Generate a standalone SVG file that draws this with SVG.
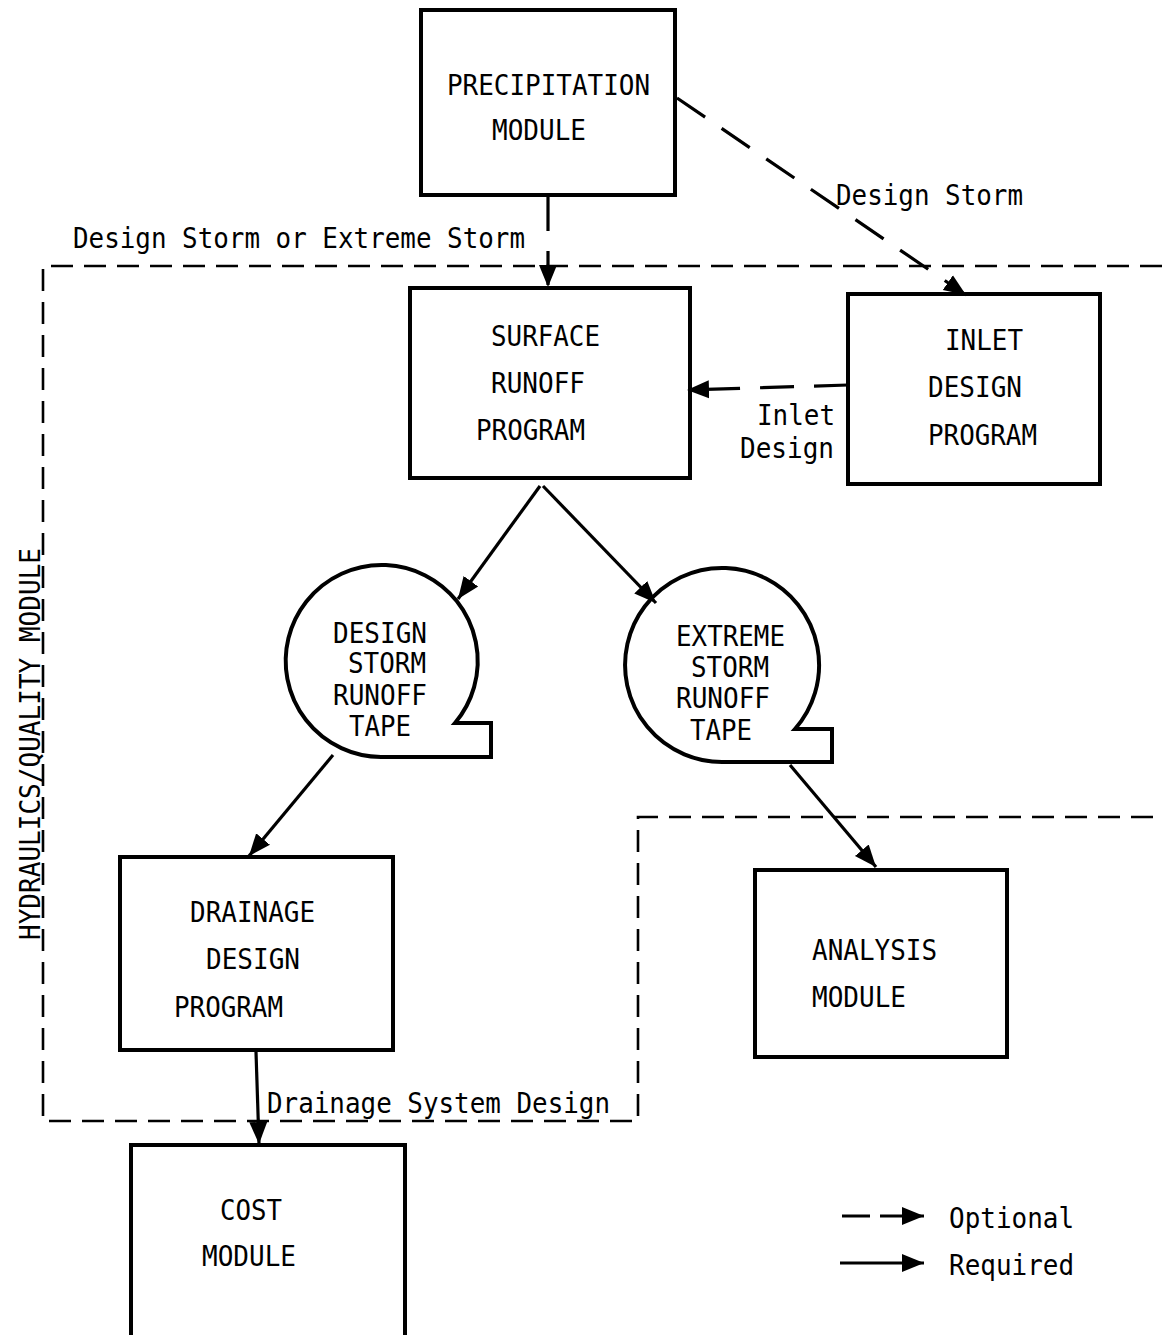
<svg xmlns="http://www.w3.org/2000/svg" width="1162" height="1335" viewBox="0 0 1162 1335">
<style>
  .box{fill:none;stroke:#000;stroke-width:4;stroke-linejoin:miter}
  .t{font-family:"DejaVu Sans Mono","Liberation Mono",monospace;font-size:28px;fill:#000}
  .req{fill:none;stroke:#000;stroke-width:3.2}
  .opt{fill:none;stroke:#000;stroke-width:3.2;stroke-dasharray:34 20}
  .bnd{fill:none;stroke:#000;stroke-width:2.6;stroke-dasharray:22 11}
</style>
<defs>
  <marker id="ah" markerUnits="userSpaceOnUse" markerWidth="24" markerHeight="20" refX="22" refY="10" orient="auto">
    <path d="M0,1 L22,10 L0,19 Z" fill="#000" stroke="none"/>
  </marker>
</defs>
<rect width="1162" height="1335" fill="#fff"/>

<g id="boundary">
  <path class="bnd" d="M1162,266 L43,266 L43,1121 L638,1121 L638,817 L1162,817"/>
  <text class="t" transform="translate(40,940) rotate(-90)" textLength="392" lengthAdjust="spacingAndGlyphs">HYDRAULICS/QUALITY MODULE</text>
</g>

<g id="precipitation">
  <rect class="box" x="421" y="10" width="254" height="185"/>
  <text class="t" x="447" y="95" textLength="203" lengthAdjust="spacingAndGlyphs">PRECIPITATION</text>
  <text class="t" x="492" y="140" textLength="94" lengthAdjust="spacingAndGlyphs">MODULE</text>
</g>

<g id="surface">
  <rect class="box" x="410" y="288" width="280" height="190"/>
  <text class="t" x="491" y="346" textLength="109" lengthAdjust="spacingAndGlyphs">SURFACE</text>
  <text class="t" x="491" y="393" textLength="94" lengthAdjust="spacingAndGlyphs">RUNOFF</text>
  <text class="t" x="476" y="440" textLength="109" lengthAdjust="spacingAndGlyphs">PROGRAM</text>
</g>

<g id="inlet">
  <rect class="box" x="848" y="294" width="252" height="190"/>
  <text class="t" x="945" y="350" textLength="78" lengthAdjust="spacingAndGlyphs">INLET</text>
  <text class="t" x="928" y="397" textLength="94" lengthAdjust="spacingAndGlyphs">DESIGN</text>
  <text class="t" x="928" y="445" textLength="109" lengthAdjust="spacingAndGlyphs">PROGRAM</text>
</g>

<g id="design-tape">
  <path class="box" d="M455,723 L491,723 L491,757 L381,757 A96,96 0 1 1 455,723 Z"/>
  <text class="t" x="333" y="643" textLength="94" lengthAdjust="spacingAndGlyphs">DESIGN</text>
  <text class="t" x="348" y="673" textLength="78" lengthAdjust="spacingAndGlyphs">STORM</text>
  <text class="t" x="333" y="705" textLength="94" lengthAdjust="spacingAndGlyphs">RUNOFF</text>
  <text class="t" x="349" y="736" textLength="62" lengthAdjust="spacingAndGlyphs">TAPE</text>
</g>

<g id="extreme-tape">
  <path class="box" d="M795,729 L832,729 L832,762 L725,762 A97,97 0 1 1 795,729 Z"/>
  <text class="t" x="676" y="646" textLength="109" lengthAdjust="spacingAndGlyphs">EXTREME</text>
  <text class="t" x="691" y="677" textLength="78" lengthAdjust="spacingAndGlyphs">STORM</text>
  <text class="t" x="676" y="708" textLength="94" lengthAdjust="spacingAndGlyphs">RUNOFF</text>
  <text class="t" x="690" y="740" textLength="62" lengthAdjust="spacingAndGlyphs">TAPE</text>
</g>

<g id="drainage">
  <rect class="box" x="120" y="857" width="273" height="193"/>
  <text class="t" x="190" y="922" textLength="125" lengthAdjust="spacingAndGlyphs">DRAINAGE</text>
  <text class="t" x="206" y="969" textLength="94" lengthAdjust="spacingAndGlyphs">DESIGN</text>
  <text class="t" x="174" y="1017" textLength="109" lengthAdjust="spacingAndGlyphs">PROGRAM</text>
</g>

<g id="analysis">
  <rect class="box" x="755" y="870" width="252" height="187"/>
  <text class="t" x="812" y="960" textLength="125" lengthAdjust="spacingAndGlyphs">ANALYSIS</text>
  <text class="t" x="812" y="1007" textLength="94" lengthAdjust="spacingAndGlyphs">MODULE</text>
</g>

<g id="cost">
  <path class="box" d="M131,1335 L131,1145 L405,1145 L405,1335"/>
  <text class="t" x="220" y="1220" textLength="62" lengthAdjust="spacingAndGlyphs">COST</text>
  <text class="t" x="202" y="1266" textLength="94" lengthAdjust="spacingAndGlyphs">MODULE</text>
</g>

<g id="connectors">
  <path class="opt" d="M548,197 L548,287" marker-end="url(#ah)"/>
  <path class="opt" d="M677,98 L966,295" marker-end="url(#ah)"/>
  <path class="opt" d="M848,385 L687,390" marker-end="url(#ah)"/>
  <path class="req" d="M540,486 L458,599" marker-end="url(#ah)"/>
  <path class="req" d="M543,486 L656,603" marker-end="url(#ah)"/>
  <path class="req" d="M333,755 L249,856" marker-end="url(#ah)"/>
  <path class="req" d="M790,765 L876,867" marker-end="url(#ah)"/>
  <path class="req" d="M256,1052 L259,1144" marker-end="url(#ah)"/>
  <text class="t" x="73" y="248" textLength="452" lengthAdjust="spacingAndGlyphs">Design Storm or Extreme Storm</text>
  <text class="t" x="836" y="205" textLength="187" lengthAdjust="spacingAndGlyphs">Design Storm</text>
  <text class="t" x="757" y="425" textLength="78" lengthAdjust="spacingAndGlyphs">Inlet</text>
  <text class="t" x="740" y="458" textLength="94" lengthAdjust="spacingAndGlyphs">Design</text>
  <text class="t" x="267" y="1113" textLength="343" lengthAdjust="spacingAndGlyphs">Drainage System Design</text>
</g>

<g id="legend">
  <path class="req" d="M842,1216 L870,1216 M880,1216 L924,1216" marker-end="url(#ah)"/>
  <path class="req" d="M840,1263 L924,1263" marker-end="url(#ah)"/>
  <text class="t" x="949" y="1228" textLength="125" lengthAdjust="spacingAndGlyphs">Optional</text>
  <text class="t" x="949" y="1275" textLength="125" lengthAdjust="spacingAndGlyphs">Required</text>
</g>
</svg>
